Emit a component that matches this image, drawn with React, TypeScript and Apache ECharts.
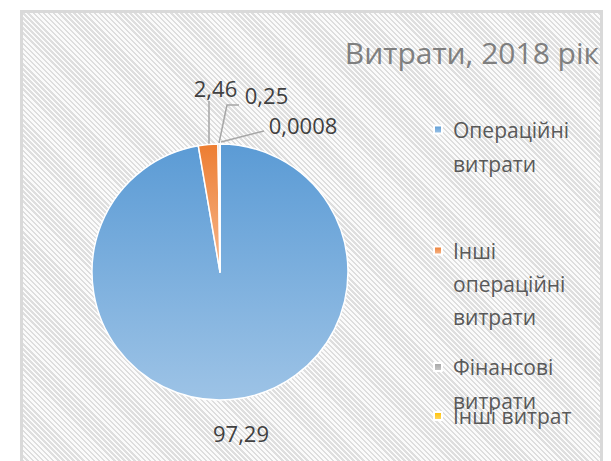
import React, { useEffect, useRef } from "react";
import * as echarts from "echarts";

const titleText = "Витрати, 2018 рік";
const categories = [
  "Операційні витрати",
  "Інші операційні витрати",
  "Фінансові витрати",
  "Інші витрати",
];
const values = [97.29, 2.46, 0.25, 0.0008];
const legendLines = [
  ["Операційні", "витрати"],
  ["Інші", "операційні", "витрати"],
  ["Фінансові", "витрати"],
  ["Інші витрат"],
];

const FONT = "'Open Sans', 'Noto Sans', sans-serif";

const grad = (a: string, b: string) => ({
  type: "linear",
  x: 0,
  y: 0,
  x2: 0,
  y2: 1,
  colorStops: [
    { offset: 0, color: a },
    { offset: 1, color: b },
  ],
});

const sliceColors = [
  grad("#5b9bd5", "#9dc3e6"),
  grad("#ed7d31", "#f6b88e"),
  grad("#a5a5a5", "#c9c9c9"),
  grad("#ffc000", "#ffd966"),
];

// label placement (Excel-style manual positions)
const labelPlace: { x: number; y: number; line?: number[][] }[] = [
  { x: 241, y: 433 },
  { x: 215.5, y: 88, line: [[209, 144], [209, 101]] },
  { x: 266.5, y: 95, line: [[219, 143], [227, 105], [239, 105]] },
  { x: 303, y: 125, line: [[221, 142], [264, 131]] },
];

const legendTop = [78.5, 168, 316, 399];
const legendLineH = [34, 33, 34, 34];

export default function App() {
  const ref = useRef<HTMLDivElement>(null);
  useEffect(() => {
    if (!ref.current) return;
    const chart = echarts.init(ref.current, undefined, { renderer: "svg" });
    const option: any = {
      animation: false,
      backgroundColor: "transparent",
      title: {
        text: titleText,
        right: 12,
        top: 37,
        padding: 0,
        textStyle: {
          fontFamily: FONT,
          fontSize: 30,
          fontWeight: "normal",
          color: "#7f7f7f",
        },
      },
      legend: legendLines.map((lines, i) => ({
        data: [categories[i]],
        left: 433,
        top: legendTop[i],
        padding: 0,
        orient: "vertical",
        icon: "rect",
        itemWidth: 8,
        itemHeight: 8,
        selectedMode: false,
        // blank lines first so that the marker sits beside the first text line
        formatter: () => [...lines.slice(1).map(() => ""), ...lines].join("\n"),
        textStyle: {
          fontFamily: FONT,
          fontSize: 21,
          color: "#595959",
          lineHeight: legendLineH[i],
          padding: [0, 0, 0, 6],
        },
      })),
      series: [
        {
          type: "pie",
          center: [220, 272],
          radius: 128,
          startAngle: 90,
          clockwise: true,
          avoidLabelOverlap: false,
          itemStyle: { borderColor: "#ffffff", borderWidth: 1.5 },
          label: {
            show: true,
            position: "outside",
            fontFamily: FONT,
            fontSize: 22,
            color: "#404040",
            formatter: (p: any) => String(p.value).replace(".", ","),
          },
          labelLine: {
            show: true,
            lineStyle: { color: "#a6a6a6", width: 1.5 },
          },
          labelLayout: (p: any) => {
            const L = labelPlace[p.dataIndex];
            const r: any = { x: L.x, y: L.y, align: "center", verticalAlign: "middle" };
            if (L.line) r.labelLinePoints = L.line;
            return r;
          },
          emphasis: { disabled: true },
          data: categories.map((name, i) => ({
            name,
            value: values[i],
            itemStyle: { color: sliceColors[i] },
            labelLine: { show: i !== 0 },
          })),
        },
      ],
    };
    chart.setOption(option);
    return () => chart.dispose();
  }, []);

  return (
    <div
      style={{
        position: "fixed",
        left: 0,
        top: 0,
        width: 611,
        height: 461,
        background: "#ffffff",
        overflow: "hidden",
      }}
    >
      <div
        style={{
          position: "absolute",
          left: 20,
          top: 10,
          width: 583,
          height: 470,
          boxSizing: "border-box",
          border: "3px solid #d9d9d9",
          borderBottom: "none",
          background:
            "repeating-linear-gradient(45deg, #fbfbfb 0px, #fbfbfb 1.8px, #dedede 1.8px, #dedede 3.6px)",
        }}
      />
      <div ref={ref} style={{ position: "absolute", left: 0, top: 0, width: 611, height: 461 }} />
    </div>
  );
}
